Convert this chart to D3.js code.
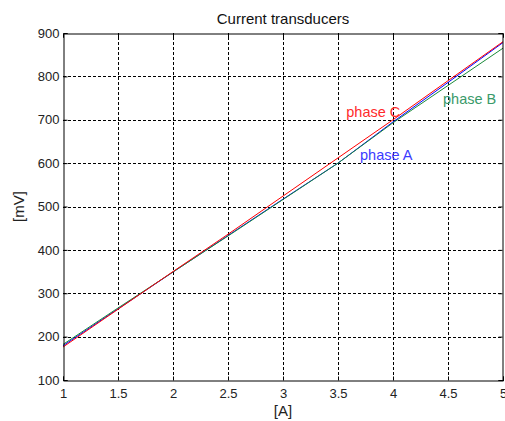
<!DOCTYPE html>
<html>
<head>
<meta charset="utf-8">
<script src="https://cdn.jsdelivr.net/npm/d3@7"></script>
<style>
  body { margin: 0; background: #fff; }
  text { font-family: "Liberation Sans", Arial, sans-serif; }
</style>
</head>
<body>
<div id="chart"></div>
<script>
// current in A
var amps = [1, 1.5, 2, 2.5, 3, 3.5, 4, 4.5, 5];
// output in mV per phase
var phaseA = [179, 264, 349, 433, 517, 600, 695, 786, 878];
var phaseB = [182, 266, 349, 432, 516, 600, 693, 779, 865];
var phaseC = [176, 263, 350, 436, 524, 612, 700, 790, 880];

var xTicks = [1, 1.5, 2, 2.5, 3, 3.5, 4, 4.5, 5];
var yTicks = [100, 200, 300, 400, 500, 600, 700, 800, 900];

var series = [
  {name: "phase A", values: phaseA, color: "#0000ff", text: "#3a3aff", lx: 3.70, ly: 607},
  {name: "phase B", values: phaseB, color: "#1a8a3a", text: "#3a9a6a", lx: 4.455, ly: 736},
  {name: "phase C", values: phaseC, color: "#ff0000", text: "#ff2a2a", lx: 3.575, ly: 706}
];

var width = 505, height = 421;
var margin = {left: 63, right: 2, top: 33, bottom: 41};

var svg = d3.select("#chart").append("svg")
    .attr("width", width)
    .attr("height", height);

var x = d3.scaleLinear().domain([1, 5]).range([margin.left, width - margin.right]);
var y = d3.scaleLinear().domain([100, 900]).range([height - margin.bottom, margin.top]);

// grid
svg.append("g")
  .selectAll("line")
  .data(xTicks.slice(1, -1))
  .enter().append("line")
    .attr("x1", d => Math.round(x(d)) + 0.5).attr("x2", d => Math.round(x(d)) + 0.5)
    .attr("y1", y(100)).attr("y2", y(900))
    .attr("stroke", "#000").attr("stroke-dasharray", "3,2");

svg.append("g")
  .selectAll("line")
  .data(yTicks.slice(1, -1))
  .enter().append("line")
    .attr("y1", d => Math.round(y(d)) + 0.5).attr("y2", d => Math.round(y(d)) + 0.5)
    .attr("x1", x(1)).attr("x2", x(5))
    .attr("stroke", "#000").attr("stroke-dasharray", "3,2");

// data lines
var line = d3.line()
    .x((d, i) => x(amps[i]))
    .y(d => y(d));

svg.append("g")
  .selectAll("path")
  .data(series)
  .enter().append("path")
    .attr("d", d => line(d.values))
    .attr("fill", "none")
    .attr("stroke", d => d.color)
    .attr("stroke-width", 1);

// labels
svg.append("g")
  .selectAll("text")
  .data(series)
  .enter().append("text")
    .attr("x", d => x(d.lx))
    .attr("y", d => y(d.ly))
    .attr("fill", d => d.text)
    .attr("font-size", 14.5)
    .text(d => d.name);

// axes (MATLAB style, inward ticks)
var axBottom = svg.append("g")
    .attr("transform", "translate(0," + (y(100) + 0.5) + ")")
    .call(d3.axisBottom(x).tickValues(xTicks).tickSize(-4).tickPadding(8).tickFormat(d3.format("")));
var axTop = svg.append("g")
    .attr("transform", "translate(0," + (y(900) + 0.5) + ")")
    .call(d3.axisTop(x).tickValues(xTicks).tickSize(-4).tickFormat(""));
var axLeft = svg.append("g")
    .attr("transform", "translate(" + (x(1) + 0.5) + ",0)")
    .call(d3.axisLeft(y).tickValues(yTicks).tickSize(-4).tickPadding(4).tickFormat(d3.format("")));
var axRight = svg.append("g")
    .attr("transform", "translate(" + (x(5) - 0.5) + ",0)")
    .call(d3.axisRight(y).tickValues(yTicks).tickSize(-4).tickFormat(""));

[axBottom, axTop, axLeft, axRight].forEach(g => {
  g.select(".domain").attr("stroke", "#000").attr("stroke-width", 1);
  g.selectAll(".tick line").attr("stroke", "#000");
  g.selectAll(".tick text")
    .attr("font-family", "Liberation Sans, Arial, sans-serif")
    .attr("font-size", 13)
    .attr("fill", "#222");
});

// title and axis labels
svg.append("text")
    .attr("x", (x(1) + x(5)) / 2)
    .attr("y", 24)
    .attr("text-anchor", "middle")
    .attr("font-size", 15)
    .attr("fill", "#111")
    .text("Current transducers");

svg.append("text")
    .attr("x", (x(1) + x(5)) / 2)
    .attr("y", 416)
    .attr("text-anchor", "middle")
    .attr("font-size", 15)
    .attr("fill", "#222")
    .text("[A]");

svg.append("text")
    .attr("transform", "translate(24," + y(500) + ") rotate(-90)")
    .attr("text-anchor", "middle")
    .attr("font-size", 15)
    .attr("fill", "#222")
    .text("[mV]");
</script>
</body>
</html>
